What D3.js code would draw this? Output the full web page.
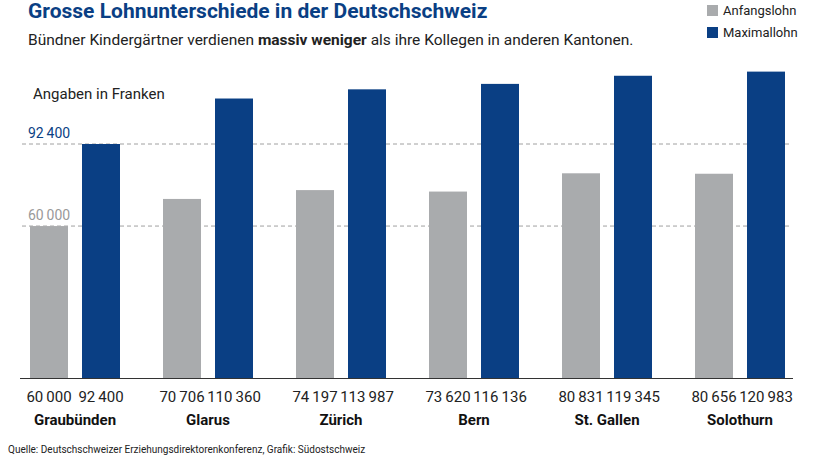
<!DOCTYPE html><html><head><meta charset="utf-8">
<script src="https://cdn.jsdelivr.net/npm/d3@7"></script>
<style>body{margin:0;background:#fff}svg{font-family:"Liberation Sans Narrow","Roboto",sans-serif}</style></head><body>
<script>
const categories=["Graubünden","Glarus","Zürich","Bern","St. Gallen","Solothurn"];
const anfangslohn=[60000,70706,74197,73620,80831,80656];
const maximallohn=[92400,110360,113987,116136,119345,120983];
const refLines=[60000,92400];
const fmt=v=>String(v).replace(/\B(?=(\d{3})+(?!\d))/g,"\u2009");
const W=814,H=459;
const svg=d3.select("body").append("svg").attr("width",W).attr("height",H);
const y=d3.scaleLinear().domain([0,92400]).range([378,144]);
const x=d3.scaleBand().domain(categories).range([30,793]).paddingInner(0).paddingOuter(0);
const bw=38,gap=14,step=133;
const gx=i=>30+i*step;
svg.append("text").attr("x",28).attr("y",18).attr("fill","#0a3f84").attr("font-weight","bold").attr("font-size",21).text("Grosse Lohnunterschiede in der Deutschschweiz");
svg.append("text").attr("x",28).attr("y",45).attr("fill","#222").attr("font-size",15.5).attr("font-family","Roboto,sans-serif")
 .html('Bündner Kindergärtner verdienen <tspan font-weight="bold">massiv weniger</tspan> als ihre Kollegen in anderen Kantonen.');
[["Anfangslohn","#a9abad",14],["Maximallohn","#0a3f84",36]].forEach(([t,c,yy])=>{
 svg.append("rect").attr("x",707).attr("y",yy-9).attr("width",11).attr("height",11).attr("fill",c);
 svg.append("text").attr("x",723).attr("y",yy+1).attr("font-size",13).attr("fill","#222").text(t);});
svg.append("text").attr("x",33).attr("y",99).attr("font-size",15).attr("fill","#222").attr("font-family","Roboto,sans-serif").text("Angaben in Franken");
refLines.forEach(v=>{
 svg.append("line").attr("x1",22).attr("x2",792).attr("y1",y(v)).attr("y2",y(v)).attr("stroke","#888").attr("stroke-dasharray","4,3").attr("stroke-width",0.8);
 svg.append("text").attr("x",28).attr("y",y(v)-6).attr("font-size",14).attr("fill",v===60000?"#999":"#0a3f84").text(fmt(v));});
categories.forEach((c,i)=>{
 const x0=gx(i);
 svg.append("rect").attr("x",x0).attr("y",y(anfangslohn[i])).attr("width",bw).attr("height",378-y(anfangslohn[i])).attr("fill","#a9abad");
 svg.append("rect").attr("x",x0+bw+gap).attr("y",y(maximallohn[i])).attr("width",bw).attr("height",378-y(maximallohn[i])).attr("fill","#0a3f84");
 svg.append("text").attr("x",x0+bw/2).attr("y",402).attr("text-anchor","middle").attr("font-size",15).attr("fill","#222").text(fmt(anfangslohn[i]));
 svg.append("text").attr("x",x0+bw+gap+bw/2).attr("y",402).attr("text-anchor","middle").attr("font-size",15).attr("fill","#222").text(fmt(maximallohn[i]));
 svg.append("text").attr("x",x0+bw+gap/2).attr("y",425).attr("text-anchor","middle").attr("font-size",15).attr("font-weight","bold").attr("fill","#111").text(c);
});
svg.append("line").attr("x1",20).attr("x2",793).attr("y1",378.5).attr("y2",378.5).attr("stroke","#333").attr("stroke-width",1);
svg.append("text").attr("x",8).attr("y",453).attr("font-size",10).attr("fill","#222").text("Quelle: Deutschschweizer Erziehungsdirektorenkonferenz, Grafik: Südostschweiz");
</script></body></html>
